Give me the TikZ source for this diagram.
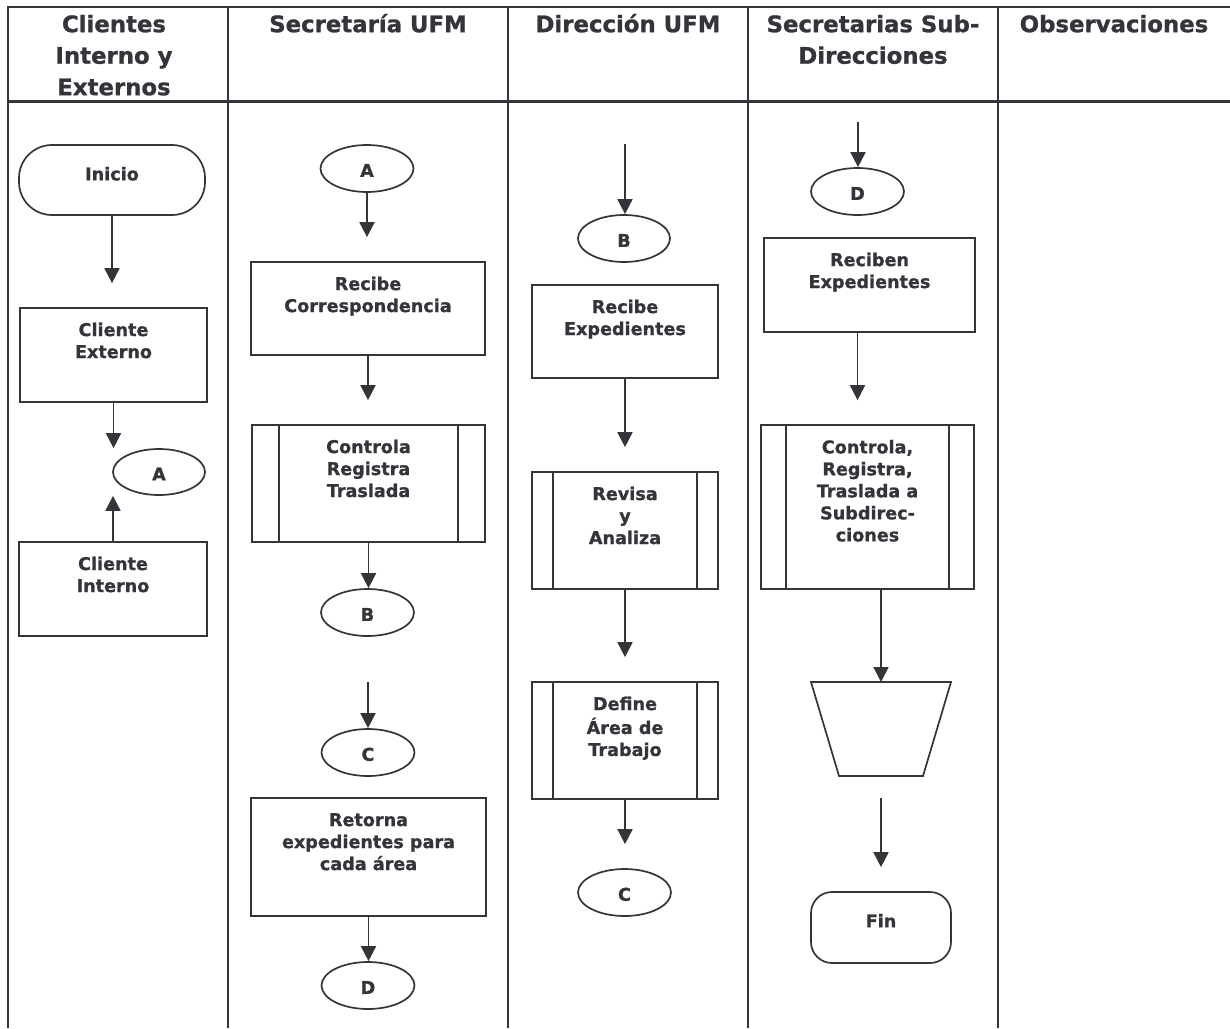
\documentclass[tikz,border=0pt]{standalone}
\usepackage{fontspec}
\setmainfont{DejaVu Sans}[BoldFeatures={FakeBold=1}]
\usetikzlibrary{arrows.meta,shapes.geometric,calc}
\definecolor{ink}{RGB}{52,52,58}
\begin{document}
\begin{tikzpicture}[x=1pt,y=-1pt,
  grid/.style={draw=ink,line width=2.3pt},
  proc/.style={draw=ink,line width=1.7pt,rectangle,inner sep=0pt},
  term/.style={draw=ink,line width=1.7pt,rectangle,rounded corners=#1,inner sep=0pt},
  conn/.style={draw=ink,line width=1.7pt,ellipse,inner sep=0pt,minimum width=93pt,minimum height=47pt,text=ink,font=\bfseries\fontsize{17.6}{22}\selectfont},
  lbl/.style={anchor=north,inner sep=0pt,align=center,text=ink,font=\bfseries\fontsize{17.6}{22}\selectfont},
  hdr/.style={anchor=north,inner sep=0pt,align=center,text=ink,font=\bfseries\fontsize{22.8}{31.5}\selectfont},
  arr/.style={draw=ink,line width=1.7pt,-{Triangle[width=15pt,length=15pt]}},
  gap/.style={shorten >=24pt},
  sub/.style={draw=ink,line width=1.7pt},
]
\useasboundingbox (0,0) rectangle (1230,1028);

% table grid
\draw[grid] (8,1028) -- (8,7) -- (1230,7);
\draw[grid] (8,101.5) -- (1230,101.5);
\foreach \x in {228,508,748,998} \draw[grid] (\x,7) -- (\x,1028);

% headers
\node[hdr] (h1) at (114,9.95) {\strut Clientes\\Interno y\\Externos};
\node[hdr] (h2) at (368,9.95) {\strut Secretaría UFM};
\node[hdr] (h3) at (628,9.95) {\strut Dirección UFM};
\node[hdr] (h4) at (873,9.95) {\strut Secretarias Sub-\\Direcciones};
\node[hdr] (h5) at (1114,9.95) {\strut Observaciones};

% ---- column 1
\node[term=33pt,minimum width=186pt,minimum height=70pt] (ini) at (112,180) {};
\node[lbl] (ini-t) at ([yshift=-20.6pt]ini.north) {\strut Inicio};
\node[proc,minimum width=187pt,minimum height=94pt] (ce) at (113.5,355) {};
\node[lbl] (ce-t) at ([yshift=-13.3pt]ce.north) {\strut Cliente\\Externo};
\node[conn,minimum width=92pt,minimum height=46pt] (A1) at (159,472) {\rule{0pt}{16.8pt}A};
\node[proc,minimum width=188pt,minimum height=94pt] (ci) at (113,589) {};
\node[lbl] (ci-t) at ([yshift=-13.3pt]ci.north) {\strut Cliente\\Interno};

% ---- column 2
\node[conn] (A2) at (367,168.5) {\rule{0pt}{16.8pt}A};
\node[proc,minimum width=234pt,minimum height=93pt] (rc) at (368,308.5) {};
\node[lbl] (rc-t) at ([yshift=-13.3pt]rc.north) {\strut Recibe\\Correspondencia};
\node[proc,minimum width=233pt,minimum height=117pt] (crt) at (368.5,483.5) {};
\node[lbl] (crt-t) at ([yshift=-13.3pt]crt.north) {\strut Controla\\Registra\\Traslada};
\node[conn] (B2) at (367.5,612.5) {\rule{0pt}{16.8pt}B};
\coordinate (fC) at (368,682);
\node[conn] (C2) at (368,752.5) {\rule{0pt}{16.8pt}C};
\node[proc,minimum width=235pt,minimum height=118pt] (ret) at (368.5,857) {};
\node[lbl] (ret-t) at ([yshift=-13.3pt]ret.north) {\strut Retorna\\expedientes para\\cada área};
\node[conn] (D2) at (368,985.5) {\rule{0pt}{16.8pt}D};

% ---- column 3
\coordinate (fB) at (625,144);
\node[conn,minimum width=92pt] (B3) at (624,238.5) {\rule{0pt}{16.8pt}B};
\node[proc,minimum width=186pt,minimum height=93pt] (re) at (625,331.5) {};
\node[lbl] (re-t) at ([yshift=-13.3pt]re.north) {\strut Recibe\\Expedientes};
\node[proc,minimum width=186pt,minimum height=117pt] (rya) at (625,530.5) {};
\node[lbl] (rya-t) at ([yshift=-13.3pt]rya.north) {\strut Revisa\\y\\Analiza};
\node[proc,minimum width=186pt,minimum height=117pt] (def) at (625,740.5) {};
\node[lbl] (def-t) at ([yshift=-13.3pt]def.north) {\strut Define\\Área de\\Trabajo};
\node[conn] (C3) at (624.5,892.5) {\rule{0pt}{16.8pt}C};

% ---- column 4
\coordinate (fD) at (858,122);
\node[conn] (D4) at (857.5,191.5) {\rule{0pt}{16.8pt}D};
\node[proc,minimum width=211pt,minimum height=94pt] (rx) at (869.5,285) {};
\node[lbl] (rx-t) at ([yshift=-13.3pt]rx.north) {\strut Reciben\\Expedientes};
\node[proc,minimum width=213pt,minimum height=164pt] (crt4) at (867.5,507) {};
\node[lbl] (crt4-t) at ([yshift=-13.6pt]crt4.north) {\strut Controla,\\Registra,\\Traslada a\\Subdirec-\\ciones};
% manual operation (trapezoid)
\coordinate (trap) at (881,682);
\draw[sub,line join=miter] (811,682) -- (951,682) -- (923,776) -- (839,776) -- cycle;
\coordinate (fF) at (881,798);
\node[term=21pt,minimum width=140pt,minimum height=71pt] (fin) at (881,927.5) {};
\node[lbl] (fin-t) at ([yshift=-20.6pt]fin.north) {\strut Fin};

% subprocess side bars
\foreach \n/\o in {crt/28,rya/22,def/22,crt4/26} {
  \draw[sub] ([xshift=\o pt]\n.north west) -- ([xshift=\o pt]\n.south west);
  \draw[sub] ([xshift=-\o pt]\n.north east) -- ([xshift=-\o pt]\n.south east);
}

% connectors
\draw[arr,gap] (ini.south) -- (ini.south |- ce.north);
\draw[arr] (ce.south) -- (ce.south |- A1.north);
\draw[arr] (ci.north) -- (ci.north |- A1.south);

\draw[arr,gap] (A2.south) -- (A2.south |- rc.north);
\draw[arr,gap] (rc.south) -- (rc.south |- crt.north);
\draw[arr] (crt.south) -- (crt.south |- B2.north);
\draw[arr] (fC) -- (fC |- C2.north);
\draw[arr] (ret.south) -- (ret.south |- D2.north);

\draw[arr] (fB) -- (fB |- B3.north);
\draw[arr,gap] (re.south) -- (re.south |- rya.north);
\draw[arr,gap] (rya.south) -- (rya.south |- def.north);
\draw[arr,gap] (def.south) -- (def.south |- C3.north);

\draw[arr] (fD) -- (fD |- D4.north);
\draw[arr,gap] (rx.south -| D4.south) -- (crt4.north -| D4.south);
\draw[arr] (crt4.south -| trap) -- (trap);
\draw[arr,gap] (fF) -- (fF |- fin.north);
\end{tikzpicture}
\end{document}
